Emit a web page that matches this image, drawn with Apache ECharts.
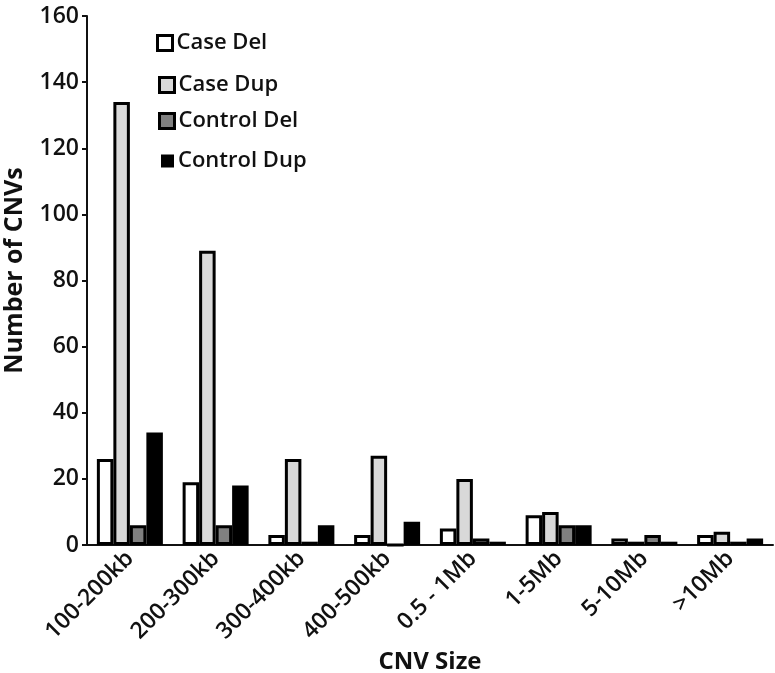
<!DOCTYPE html>
<html>
<head>
<meta charset="utf-8">
<script src="https://cdn.jsdelivr.net/npm/echarts@6/dist/echarts.min.js"></script>
<style>
html,body{margin:0;padding:0;background:#fff;}
#chart{width:775px;height:673px;}
</style>
</head>
<body>
<div id="chart"></div>
<script>
var categories = ['100-200kb','200-300kb','300-400kb','400-500kb','0.5 - 1Mb','1-5Mb','5-10Mb','>10Mb'];
var caseDel    = [26, 19, 3, 3, 5, 9, 2, 3];
var caseDup    = [134, 89, 26, 27, 20, 10, 1, 4];
var controlDel = [6, 6, 1, 0, 2, 6, 3, 1];
var controlDup = [34, 18, 6, 7, 1, 6, 1, 2];
var yTicks = [0, 20, 40, 60, 80, 100, 120, 140, 160];
var seriesNames = ['Case Del','Case Dup','Control Del','Control Dup'];
var fills = ['#ffffff','#d9d9d9','#808080','#000000'];

var FONT = 'Open Sans';
var chart = echarts.init(document.getElementById('chart'));
var dataSets = [caseDel, caseDup, controlDel, controlDup];
var series = dataSets.map(function(d, i){
  return {
    name: seriesNames[i], type: 'bar', data: d,
    barWidth: 16.5, barGap: '0%',
    itemStyle: {color: fills[i], borderColor: '#000', borderWidth: 3},
    emphasis: {disabled: true}
  };
});
var legendTops = [27, 69, 105, 145];
var legendLefts = [151, 153, 153, 156];
var legends = seriesNames.map(function(n, i){
  var small = i === 3;
  return {
    left: legendLefts[i], top: legendTops[i], orient: 'vertical',
    itemWidth: small ? 13 : 15, itemHeight: small ? 13 : 15, itemGap: 0,
    icon: 'rect',
    data: [{name: n, itemStyle: {color: fills[i], borderColor: '#000', borderWidth: small ? 0 : 3}}],
    textStyle: {fontFamily: FONT, fontSize: 22, fontWeight: 600, color: '#111', padding: [0,0,0,-1]},
    selectedMode: false
  };
});
chart.setOption({
  animation: false,
  backgroundColor: '#fff',
  grid: {left: 87, right: 2, top: 16, bottom: 128, containLabel: false, outerBoundsMode: 'none'},
  legend: legends,
  xAxis: {
    type: 'category', data: categories,
    name: 'CNV Size', nameLocation: 'middle', nameGap: 96,
    nameTextStyle: {fontFamily: FONT, fontSize: 24, fontWeight: 'bold', color: '#111'},
    axisLine: {lineStyle: {color: '#111', width: 2}},
    axisTick: {show: false},
    axisLabel: {rotate: 45, fontFamily: FONT, fontSize: 23, fontWeight: 600, color: '#111', margin: 10, interval: 0}
  },
  yAxis: {
    type: 'value', min: 0, max: 160, interval: 20,
    name: 'Number of CNVs', nameLocation: 'middle', nameGap: 60, nameRotate: 90,
    nameTextStyle: {fontFamily: FONT, fontSize: 25, fontWeight: 'bold', color: '#111', padding: [0,0,0,20]},
    splitLine: {show: false},
    axisLine: {show: true, lineStyle: {color: '#111', width: 2}},
    axisTick: {show: true, length: 5, lineStyle: {color: '#111', width: 2}},
    axisLabel: {fontFamily: FONT, fontSize: 23, fontWeight: 600, color: '#111', margin: 8,
      formatter: function(v){ return yTicks.indexOf(v) >= 0 ? String(v) : ''; }}
  },
  series: series
});
</script>
</body>
</html>
